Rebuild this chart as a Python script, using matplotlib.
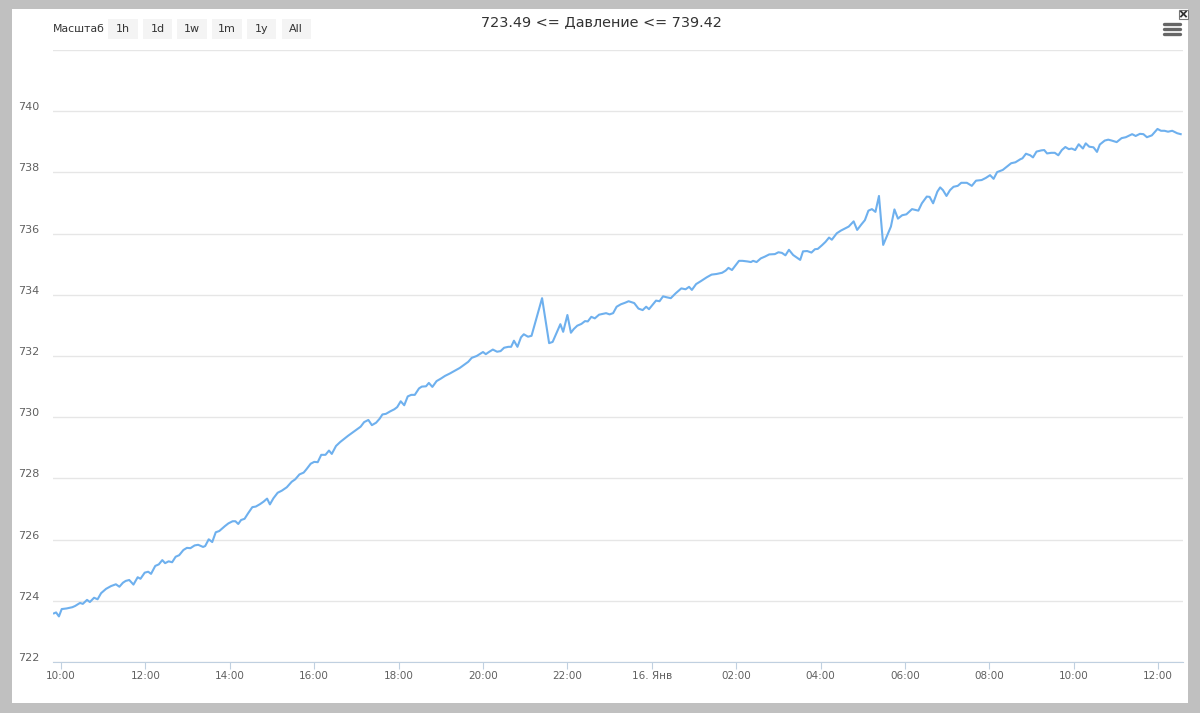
#coding:utf-8
#график давления: линия, шкала времени, оформление в стиле highcharts

import pandas as pd
import matplotlib
matplotlib.use('Agg')
import matplotlib.pyplot as plt
import matplotlib.dates as mdates
import matplotlib.transforms as mtransforms
from matplotlib.patches import Rectangle

#данные: минуты от 15 янв 10:00 и давление (мм рт. ст.)
minutes = [-10, -7, -3, 1, 8, 16, 20, 27, 31, 37, 41, 47, 52, 57, 64, 71, 78, 83, 88, 92,
           97, 103, 109, 113, 119, 124, 128, 134, 139, 144, 148, 153, 158, 163, 168, 174, 179, 184, 190, 195,
           202, 205, 210, 215, 220, 225, 233, 238, 244, 248, 252, 256, 261, 266, 272, 277, 283, 288, 293, 297,
           302, 308, 314, 321, 328, 333, 339, 345, 349, 355, 360, 365, 370, 376, 381, 385, 391, 397, 408,
           420, 426, 431, 437, 442, 448, 453, 457, 462, 468, 474, 478, 483, 488, 493, 498, 503, 509, 513, 519,
           523, 528, 534, 540, 546, 553, 560, 567, 573, 579, 584, 591, 596, 600, 604, 609, 614, 620, 625, 630,
           636, 640, 644, 649, 654, 658, 664, 669, 684, 694, 699, 710, 714, 720, 725, 729, 734, 740, 745, 749,
           754, 759, 765, 769, 775, 780, 785, 790, 796, 802, 807, 815, 821,
           827, 832, 836, 846, 851, 856, 861, 867, 874, 882, 888, 893, 897, 903, 910, 918, 925, 932, 940, 945,
           949, 954, 964, 969, 976, 981, 984, 989, 995, 1001, 1007, 1015, 1020, 1025, 1030, 1035, 1041, 1051, 1055, 1061,
           1067, 1072, 1076, 1082, 1087, 1092, 1096, 1103, 1109, 1115, 1120, 1127, 1132, 1138, 1143, 1148, 1153, 1158, 1163, 1169,
           1180, 1185, 1190, 1196, 1202, 1210, 1219, 1224, 1231, 1235, 1240, 1246, 1250,
           1254, 1259, 1264, 1269, 1275, 1280, 1288, 1295, 1301, 1309, 1315, 1321, 1326, 1331, 1339, 1345, 1351, 1357, 1364, 1367,
           1372, 1378, 1382, 1387, 1394, 1398, 1402, 1408, 1413, 1418, 1423, 1428, 1433, 1437, 1442, 1447, 1453, 1457, 1462, 1468,
           1473, 1477, 1484, 1489, 1494, 1501, 1508, 1514, 1523, 1528, 1534, 1539, 1544, 1551, 1559, 1564, 1569, 1574, 1580, 1587, 1592]
pressure = [723.59, 723.62, 723.49, 723.73, 723.75, 723.79, 723.83, 723.93, 723.90, 724.03, 723.96, 724.10, 724.05, 724.25, 724.39, 724.48, 724.54, 724.46, 724.59, 724.65,
            724.68, 724.53, 724.77, 724.72, 724.92, 724.95, 724.88, 725.14, 725.19, 725.33, 725.23, 725.29, 725.26, 725.44, 725.49, 725.66, 725.73, 725.72, 725.81, 725.83,
            725.76, 725.79, 726.01, 725.92, 726.24, 726.28, 726.44, 726.53, 726.60, 726.60, 726.51, 726.64, 726.68, 726.86, 727.06, 727.08, 727.16, 727.24, 727.34, 727.15,
            727.35, 727.53, 727.60, 727.71, 727.89, 727.97, 728.13, 728.19, 728.30, 728.48, 728.54, 728.53, 728.77, 728.77, 728.91, 728.80, 729.06, 729.19, 729.39,
            729.59, 729.69, 729.84, 729.91, 729.74, 729.82, 729.95, 730.09, 730.11, 730.19, 730.26, 730.33, 730.52, 730.39, 730.68, 730.73, 730.73, 730.94, 731.00, 731.01,
            731.12, 730.99, 731.18, 731.26, 731.35, 731.43, 731.52, 731.61, 731.71, 731.81, 731.94, 732.00, 732.07, 732.13, 732.06, 732.14, 732.21, 732.14, 732.16, 732.27,
            732.30, 732.30, 732.50, 732.30, 732.61, 732.71, 732.63, 732.66, 733.89, 732.42, 732.46, 733.04, 732.79, 733.34, 732.76, 732.88, 732.99, 733.05, 733.14, 733.13,
            733.28, 733.23, 733.35, 733.37, 733.40, 733.36, 733.40, 733.61, 733.69, 733.74, 733.79, 733.73, 733.55,
            733.50, 733.61, 733.53, 733.81, 733.79, 733.95, 733.92, 733.89, 734.05, 734.21, 734.18, 734.26, 734.16, 734.35, 734.45, 734.57, 734.66, 734.68, 734.72, 734.79,
            734.88, 734.81, 735.11, 735.11, 735.09, 735.07, 735.11, 735.07, 735.19, 735.25, 735.32, 735.33, 735.39, 735.37, 735.29, 735.47, 735.30, 735.14, 735.42, 735.43,
            735.38, 735.49, 735.50, 735.62, 735.73, 735.87, 735.80, 736.01, 736.10, 736.17, 736.23, 736.40, 736.12, 736.30, 736.44, 736.75, 736.80, 736.71, 737.23, 735.63,
            736.23, 736.79, 736.49, 736.60, 736.63, 736.80, 736.75, 736.99, 737.21, 737.20, 736.99, 737.37, 737.51,
            737.42, 737.23, 737.42, 737.53, 737.56, 737.66, 737.66, 737.56, 737.73, 737.75, 737.82, 737.91, 737.79, 738.01, 738.08, 738.19, 738.30, 738.33, 738.43, 738.46,
            738.61, 738.56, 738.49, 738.68, 738.72, 738.73, 738.62, 738.64, 738.64, 738.56, 738.73, 738.83, 738.76, 738.78, 738.73, 738.92, 738.78, 738.95, 738.84, 738.82,
            738.67, 738.91, 739.04, 739.07, 739.04, 738.99, 739.12, 739.15, 739.25, 739.19, 739.26, 739.25, 739.15, 739.21, 739.42, 739.36, 739.36, 739.33, 739.36, 739.28, 739.25]

title = '723.49 <= Давление <= 739.42'
zoom_label = 'Масштаб'
zoom_buttons = ['1h', '1d', '1w', '1m', '1y', 'All']
y_ticks = [722, 724, 726, 728, 730, 732, 734, 736, 738, 740, 742]

start = pd.Timestamp('2015-01-15 10:00')
times = start + pd.to_timedelta(minutes, unit='min')

plt.rcParams['font.family'] = ['DejaVu Sans']

fig = plt.figure(figsize=(12, 7.13), dpi=100)
fig.patch.set_facecolor('#c0c0c0')

#фоновая панель в пикселях
bg = fig.add_axes([0, 0, 1, 1], zorder=0)
bg.set_xlim(0, 1200)
bg.set_ylim(713, 0)
bg.axis('off')
bg.add_patch(Rectangle((12, 9), 1176, 694, facecolor='white', edgecolor='none'))

#кнопки масштаба
bg.text(53, 28.5, zoom_label, fontsize=7.8, color='#333333', ha='left', va='center')
for i, b in enumerate(zoom_buttons):
    x0 = 108 + i * 34.7
    bg.add_patch(Rectangle((x0, 18.5), 29.5, 20, facecolor='#f4f4f4', edgecolor='none'))
    bg.text(x0 + 14.75, 28.5, b, fontsize=8, color='#333333', ha='center', va='center')

#заголовок
bg.text(601, 22, title, fontsize=10.4, color='#333333', ha='center', va='center')

#меню и крестик
for yy in [23.5, 28.5, 33.5]:
    bg.plot([1164, 1180], [yy, yy], color='#666666', lw=2.4, solid_capstyle='round')
bg.add_patch(Rectangle((1179, 9.5), 9, 9, facecolor='white', edgecolor='#777777', lw=0.8))
bg.plot([1181, 1186], [11.5, 16.5], color='#333333', lw=1.3)
bg.plot([1181, 1186], [16.5, 11.5], color='#333333', lw=1.3)

#основной график
ax = fig.add_axes([53 / 1200, 1 - 662 / 713, 1130 / 1200, 612 / 713], zorder=1)
ax.patch.set_alpha(0)
ax.plot(times, pressure, color='#6eb0ee', lw=1.5, solid_joinstyle='round')

ax.set_xlim(start + pd.Timedelta(minutes=-11.4), start + pd.Timedelta(minutes=1595.3))
ax.set_ylim(722, 742)

ax.set_yticks(y_ticks)
ax.set_yticklabels([str(v) if v != 742 else '' for v in y_ticks])
ax.yaxis.grid(True, color='#e6e6e6', lw=1)
ax.set_axisbelow(True)
ax.tick_params(axis='y', length=0, pad=10, labelsize=8, labelcolor='#606060')
offset = mtransforms.ScaledTranslation(0, 5 / 100, fig.dpi_scale_trans)
for lab in ax.get_yticklabels():
    lab.set_transform(lab.get_transform() + offset)

#подписи времени
def fmt(x, pos=None):
    d = mdates.num2date(x)
    if d.hour == 0 and d.minute == 0:
        return '%d. Янв' % d.day
    return d.strftime('%H:%M')

ax.xaxis.set_major_locator(mdates.HourLocator(byhour=range(0, 24, 2)))
ax.xaxis.set_major_formatter(plt.FuncFormatter(fmt))
ax.tick_params(axis='x', length=5, width=0.8, color='#c0d0e0', pad=1.5, labelsize=7.5, labelcolor='#606060')

for s in ['top', 'right', 'left']:
    ax.spines[s].set_visible(False)
ax.spines['bottom'].set_color('#c0d0e0')
ax.spines['bottom'].set_linewidth(0.8)

plt.savefig('out.png', dpi=100, facecolor=fig.get_facecolor())
